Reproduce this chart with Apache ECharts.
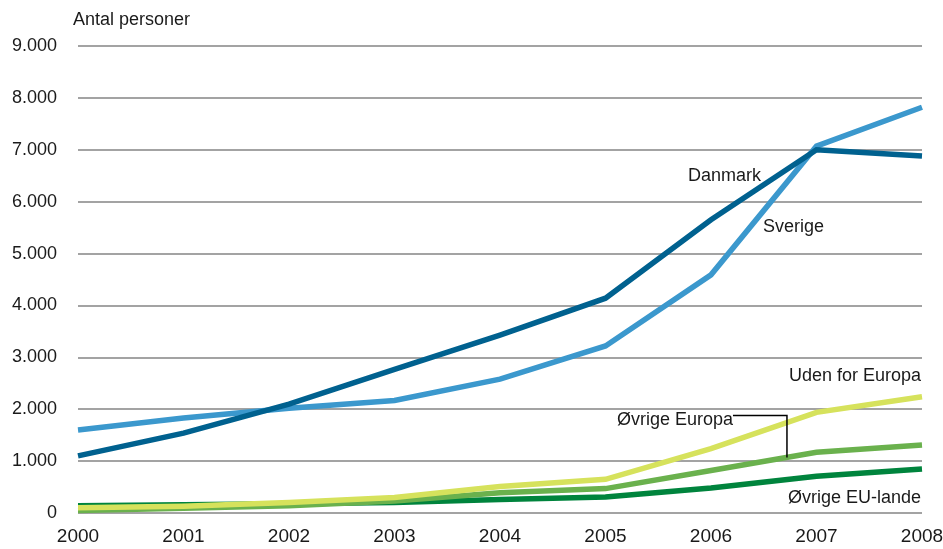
<!DOCTYPE html>
<html>
<head>
<meta charset="utf-8">
<script src="https://cdn.jsdelivr.net/npm/echarts@6/dist/echarts.min.js"></script>
<style>
  html, body { margin: 0; padding: 0; background: #fff; }
  #chart { width: 943px; height: 549px; }
</style>
</head>
<body>
<div id="chart"></div>
<script>
// Years on the x axis
var years = ['2000', '2001', '2002', '2003', '2004', '2005', '2006', '2007', '2008'];

// Number of persons per origin group
var danmark        = [1100, 1540, 2100, 2770, 3430, 4140, 5650, 7000, 6880];
var sverige        = [1600, 1830, 2020, 2170, 2580, 3220, 4590, 7070, 7820];
var udenForEuropa  = [100, 130, 200, 300, 510, 650, 1240, 1940, 2240];
var oevrigeEuropa  = [50, 90, 140, 230, 390, 470, 820, 1170, 1310];
var oevrigeEU      = [140, 160, 180, 200, 260, 310, 480, 710, 850];

// Y axis ticks
var yMin = 0, yMax = 9000, yStep = 1000;

var FONT = '"Liberation Sans", Arial, sans-serif';
var TEXT = '#1a1a1a';

function fmt(v) {
  if (v === 0) return '0';
  return String(v).replace(/\B(?=(\d{3})+(?!\d))/g, '.');
}

var chart = echarts.init(document.getElementById('chart'), null, { renderer: 'canvas' });

function lineSeries(name, data, color, z) {
  return {
    name: name,
    type: 'line',
    data: data,
    symbol: 'none',
    smooth: false,
    z: z,
    lineStyle: { color: color, width: 5.5, cap: 'butt', join: 'miter' },
    emphasis: { disabled: true }
  };
}

chart.setOption({
  animation: false,
  backgroundColor: '#fff',
  grid: { left: 78, right: 21, top: 46, bottom: 36, containLabel: false, outerBoundsMode: 'none' },
  xAxis: {
    type: 'category',
    data: years,
    boundaryGap: false,
    axisLine: { show: false },
    axisTick: { show: false },
    axisLabel: { color: TEXT, fontFamily: FONT, fontSize: 19, margin: 14 }
  },
  yAxis: {
    type: 'value',
    min: yMin, max: yMax, interval: yStep,
    axisLine: { show: false },
    axisTick: { show: false },
    axisLabel: { color: TEXT, fontFamily: FONT, fontSize: 18, margin: 21, formatter: fmt },
    splitLine: { lineStyle: { color: '#a3a3a3', width: 2 } }
  },
  series: [
    lineSeries('Øvrige EU-lande', oevrigeEU, '#00843d', 3),
    lineSeries('Øvrige Europa', oevrigeEuropa, '#6ab14d', 4),
    lineSeries('Uden for Europa', udenForEuropa, '#d6e25c', 5),
    lineSeries('Sverige', sverige, '#3b98cd', 6),
    lineSeries('Danmark', danmark, '#00618f', 7)
  ]
});

// Series labels placed relative to the data they describe
function px(i, v) { return chart.convertToPixel({ gridIndex: 0 }, [i, v]); }
// Pixel position at a fractional year index, interpolated along a series
function lerpPx(t, data) {
  var i = Math.floor(t), f = t - i;
  var a = px(i, data[i]), b = px(i + 1, data[i + 1]);
  return [a[0] + (b[0] - a[0]) * f, a[1] + (b[1] - a[1]) * f];
}
function yPx(v) { return px(0, v)[1]; }

var textStyle = { fill: TEXT, font: '18px ' + FONT };
var pUden = px(8, udenForEuropa[8]);
var pEU = px(8, oevrigeEU[8]);
var lead = lerpPx(6.72, oevrigeEuropa);
var leadY = yPx(1880);
var yTitle = yPx(yMax);

chart.setOption({
  graphic: [
    { type: 'text', x: 73, y: yTitle - 26, style: Object.assign({ text: 'Antal personer', textVerticalAlign: 'middle' }, textStyle) },
    { type: 'text', x: 688, y: yPx(6500), style: Object.assign({ text: 'Danmark', textVerticalAlign: 'middle' }, textStyle) },
    { type: 'text', x: 763, y: yPx(5520), style: Object.assign({ text: 'Sverige', textVerticalAlign: 'middle' }, textStyle) },
    { type: 'text', x: pUden[0] - 1, y: pUden[1] - 21, style: Object.assign({ text: 'Uden for Europa', textAlign: 'right', textVerticalAlign: 'middle' }, textStyle) },
    { type: 'text', x: pEU[0] - 1, y: pEU[1] + 29, style: Object.assign({ text: 'Øvrige EU-lande', textAlign: 'right', textVerticalAlign: 'middle' }, textStyle) },
    { type: 'text', x: lead[0] - 54, y: leadY + 5, style: Object.assign({ text: 'Øvrige Europa', textAlign: 'right', textVerticalAlign: 'middle' }, textStyle) },
    { type: 'polyline', z: 10, shape: { points: [[lead[0] - 54, leadY], [lead[0], leadY], [lead[0], lead[1]]] },
      style: { stroke: '#000', lineWidth: 1.5, fill: null } }
  ]
});
</script>
</body>
</html>
